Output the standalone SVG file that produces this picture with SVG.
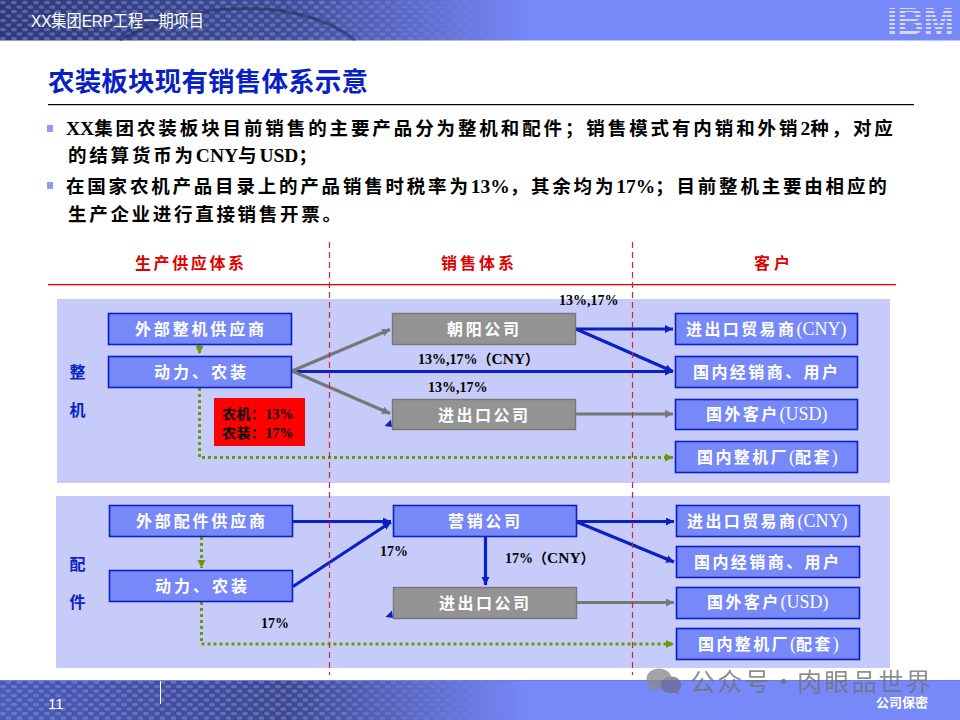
<svg xmlns="http://www.w3.org/2000/svg" width="960" height="720" viewBox="0 0 960 720">
<style>
text{font-family:"Liberation Serif","Noto Sans CJK SC",serif;font-weight:700}
.hd{font-family:"Liberation Sans","Noto Sans CJK SC",sans-serif;font-weight:400;fill:#fff}
.bl{font-size:18.5px;fill:#000}
.la{letter-spacing:0}
.lb2{letter-spacing:0;font-size:19.5px}
.col{font-size:16px;fill:#e00000}
.side{font-size:16px;fill:#0a1fc4;text-anchor:middle}
.bt{font-size:16px;fill:#fff}
.bs{letter-spacing:2.4px}
.blat{font-size:18px;font-weight:400;letter-spacing:0}
.lb{font-size:14px;fill:#000}
.lcny{font-size:15.5px}
.panel{fill:#c6cbfa}
.bx{fill:#7788f9;stroke:#0a1fc4;stroke-width:1.6}
.gy{fill:#939393;stroke:#777;stroke-width:1.4}
.c{fill:none}
.blue{stroke:#0a1fc4;stroke-width:3.2}
.gray{stroke:#777;stroke-width:3.2}
.dot{stroke:#6b9a00;stroke-width:3;stroke-dasharray:3 3}
.div{stroke:#d8203c;stroke-width:1.200;stroke-dasharray:6 4}
</style>
<defs>
<linearGradient id="hg" x1="0" x2="1" y1="0" y2="0"><stop offset="0" stop-color="#2f3a78"/><stop offset=".3" stop-color="#3f4c98"/><stop offset=".55" stop-color="#7788f9"/><stop offset="1" stop-color="#7788f9"/></linearGradient>
<linearGradient id="fg" x1="0" x2="1" y1="0" y2="0"><stop offset="0" stop-color="#4a5ab8"/><stop offset=".3" stop-color="#3d4890"/><stop offset=".55" stop-color="#7788f9"/><stop offset="1" stop-color="#7788f9"/></linearGradient>
<linearGradient id="fade" x1="0" x2="1" y1="0" y2="0"><stop offset="0" stop-color="#fff" stop-opacity=".8"/><stop offset=".33" stop-color="#fff" stop-opacity=".8"/><stop offset=".55" stop-color="#fff" stop-opacity="0"/></linearGradient>
<pattern id="dots" width="11" height="9" patternUnits="userSpaceOnUse"><ellipse cx="3" cy="2.500" rx="3" ry="1.800" fill="#8f9ce0" fill-opacity=".55"/><ellipse cx="8.500" cy="7" rx="3" ry="1.800" fill="#8f9ce0" fill-opacity=".55"/></pattern>
<mask id="fm"><rect width="960" height="720" fill="url(#fade)"/></mask>
<marker id="ab" markerWidth="10" markerHeight="10" refX="8" refY="4" orient="auto" markerUnits="userSpaceOnUse"><path d="M0 0L8 4L0 8Z" fill="#0a1fc4"/></marker>
<marker id="ag" markerWidth="10" markerHeight="10" refX="8" refY="4" orient="auto" markerUnits="userSpaceOnUse"><path d="M0 0L8 4L0 8Z" fill="#777"/></marker>
<marker id="ad" markerWidth="10" markerHeight="10" refX="8" refY="4" orient="auto" markerUnits="userSpaceOnUse"><path d="M0 0L8 4L0 8Z" fill="#6b9a00"/></marker>
</defs>

<g id="header">
<rect width="960" height="40.500" fill="url(#hg)"/>
<rect width="960" height="40.500" fill="url(#dots)" mask="url(#fm)"/>
<path d="M120 40C190 0 300 -4 355 40" fill="none" stroke="#26305f" stroke-width="3" opacity=".6"/>
<text class="hd" x="31" y="27" font-size="17" textLength="173" lengthAdjust="spacingAndGlyphs">XX集团ERP工程一期项目</text>
<text x="887" y="33.500" font-size="37" textLength="67" lengthAdjust="spacingAndGlyphs" style="font-family:'Liberation Sans',sans-serif;font-weight:700;fill:#d4d9fb">IBM</text>
<path d="M885 10H956M885 14H956M885 18H956M885 22H956M885 26H956M885 30H956" stroke="#7788f9" stroke-width="1.800"/>
</g>

<g id="title">
<text x="48" y="91" font-size="26.500" fill="#0a1fc4" textLength="320">农装板块现有销售体系示意</text>
<rect x="48" y="104" width="866" height="1.200" fill="#000"/>
</g>

<g id="bullets">
<rect x="47" y="125" width="6" height="7" fill="#8f9cf5"/>
<rect x="47" y="182" width="6" height="7" fill="#8f9cf5"/>
<text class="bl" x="66" y="135" letter-spacing="2.900"><tspan class="lb2">XX</tspan>集团农装板块目前销售的主要产品分为整机和配件；销售模式有内销和外销<tspan class="lb2">2</tspan>种，对应</text>
<text class="bl" x="68" y="162" letter-spacing="2.800">的结算货币为<tspan class="lb2">CNY</tspan>与<tspan class="lb2">USD</tspan>；</text>
<text class="bl" x="66" y="193" letter-spacing="2.800">在国家农机产品目录上的产品销售时税率为<tspan class="lb2">13%</tspan>，其余均为<tspan class="lb2">17%</tspan>；目前整机主要由相应的</text>
<text class="bl" x="68" y="221" letter-spacing="2.700">生产企业进行直接销售开票。</text>
</g>

<g id="columns">
<text class="col" x="135" y="269" textLength="109">生产供应体系</text>
<text class="col" x="441" y="269" textLength="73">销售体系</text>
<text class="col" x="754" y="269" textLength="36">客户</text>
<rect x="48" y="284" width="848" height="1.300" fill="#e00000"/>
</g>

<g id="panels">
<rect class="panel" x="57" y="299" width="833" height="184"/>
<rect class="panel" x="56" y="496" width="834" height="172"/>
</g>

<g id="connectors" fill="none">
<path class="c blue" d="M292 371.500H673" marker-end="url(#ab)"/>
<path class="c gray" d="M292 371L390 329.500" marker-end="url(#ag)"/>
<path class="c gray" d="M292 371L390 413.500" marker-end="url(#ag)"/>
<path class="c blue" d="M576 329H673" marker-end="url(#ab)"/>
<path class="c blue" d="M576 329L673 371.500" marker-end="url(#ab)"/>
<path class="c gray" d="M576 414H673" marker-end="url(#ag)"/>
<path class="c dot" d="M199.500 344V354" marker-end="url(#ad)"/>
<path class="c dot" d="M199.500 388V457.500H673" marker-end="url(#ad)"/>
<path d="M384.500 426L391 419.500L392 427Z" fill="#0a1fc4"/>
<path class="c blue" d="M293 521.500H391" marker-end="url(#ab)"/>
<path class="c blue" d="M293 586.500L391 522" marker-end="url(#ab)"/>
<path class="c blue" d="M577 521.500H674" marker-end="url(#ab)"/>
<path class="c blue" d="M577 522L674 562" marker-end="url(#ab)"/>
<path class="c blue" d="M485.500 536V585" marker-end="url(#ab)"/>
<path class="c gray" d="M577 602.500H674" marker-end="url(#ag)"/>
<path class="c dot" d="M201.500 537V568" marker-end="url(#ad)"/>
<path class="c dot" d="M201.500 602V644H674" marker-end="url(#ad)"/>
<path d="M385.500 617L392 610.500L393 618Z" fill="#0a1fc4"/>
<path class="c div" d="M329.500 242V675"/>
<path class="c div" d="M632.500 242V675"/>
</g>

<g id="side-labels">
<text class="side" x="77.500" y="378">整</text>
<text class="side" x="77.500" y="416">机</text>
<text class="side" x="77.500" y="570">配</text>
<text class="side" x="77.500" y="608">件</text>
</g>

<g id="n1"><rect class="bx" x="108.500" y="313.500" width="183" height="31"/><text class="bt" x="135" y="335" textLength="129">外部整机供应商</text></g>
<g id="n2"><rect class="bx" x="108.500" y="356.500" width="183" height="31"/><text class="bt" x="154" y="378" textLength="92">动力、农装</text></g>
<g id="n3"><rect class="gy" x="392.500" y="313.500" width="183" height="31"/><text class="bt" x="447" y="335" textLength="72">朝阳公司</text></g>
<g id="n4"><rect class="gy" x="392.500" y="399.500" width="183" height="30"/><text class="bt" x="438" y="421" textLength="90">进出口公司</text></g>
<g id="n5"><rect class="bx" x="675.500" y="313.500" width="182" height="31"/><text class="bt bs" x="686" y="335">进出口贸易商<tspan class="blat">(CNY)</tspan></text></g>
<g id="n6"><rect class="bx" x="675.500" y="356.500" width="182" height="31"/><text class="bt" x="693" y="378" textLength="145">国内经销商、用户</text></g>
<g id="n7"><rect class="bx" x="675.500" y="399.500" width="182" height="30"/><text class="bt bs" x="706" y="420">国外客户<tspan class="blat">(USD)</tspan></text></g>
<g id="n8"><rect class="bx" x="675.500" y="441.500" width="182" height="31"/><text class="bt bs" x="697" y="463">国内整机厂<tspan class="blat">(</tspan>配套<tspan class="blat">)</tspan></text></g>
<g id="n9"><rect x="214" y="398" width="91" height="48" fill="#ff0000"/><text class="lb" x="222" y="419" letter-spacing=".5">农机：<tspan class="la">13%</tspan></text><text class="lb" x="222" y="438" letter-spacing=".5">农装：<tspan class="la">17%</tspan></text></g>

<g id="n10"><rect class="bx" x="109.500" y="505.500" width="183" height="31"/><text class="bt" x="136" y="527" textLength="129">外部配件供应商</text></g>
<g id="n11"><rect class="bx" x="109.500" y="570.500" width="183" height="31"/><text class="bt" x="155" y="592" textLength="92">动力、农装</text></g>
<g id="n12"><rect class="bx" x="393.500" y="505.500" width="183" height="31"/><text class="bt" x="448" y="527" textLength="72">营销公司</text></g>
<g id="n13"><rect class="gy" x="393.500" y="587.500" width="183" height="31"/><text class="bt" x="439" y="609" textLength="90">进出口公司</text></g>
<g id="n14"><rect class="bx" x="676.500" y="505.500" width="183" height="31"/><text class="bt bs" x="687" y="527">进出口贸易商<tspan class="blat">(CNY)</tspan></text></g>
<g id="n15"><rect class="bx" x="676.500" y="546.500" width="183" height="31"/><text class="bt" x="694" y="568" textLength="145">国内经销商、用户</text></g>
<g id="n16"><rect class="bx" x="676.500" y="587.500" width="183" height="31"/><text class="bt bs" x="707" y="608">国外客户<tspan class="blat">(USD)</tspan></text></g>
<g id="n17"><rect class="bx" x="676.500" y="628.500" width="183" height="31"/><text class="bt bs" x="698" y="650">国内整机厂<tspan class="blat">(</tspan>配套<tspan class="blat">)</tspan></text></g>

<g id="edge-labels">
<text class="lb" x="559" y="305">13%,17%</text>
<text class="lb" x="418" y="364">13%,17%<tspan>（</tspan><tspan class="lcny">CNY</tspan><tspan>）</tspan></text>
<text class="lb" x="428" y="392">13%,17%</text>
<text class="lb" x="380" y="556">17%</text>
<text class="lb" x="505" y="563">17%<tspan>（</tspan><tspan class="lcny">CNY</tspan><tspan>）</tspan></text>
<text class="lb" x="261" y="628">17%</text>
</g>

<g id="footer">
<rect y="680" width="960" height="40" fill="url(#fg)"/>
<rect y="680" width="960" height="40" fill="url(#dots)" mask="url(#fm)"/>
<rect y="680" width="960" height="1" fill="#6a7cf0"/>
<rect x="160" y="681" width="1" height="23" fill="#fff"/>
<text class="hd" x="48" y="709" font-size="15">11</text>
<text class="hd" x="876" y="707" font-size="13" textLength="52" style="font-weight:700">公司保密</text>
</g>

<g id="watermark" opacity=".78">
<ellipse cx="659" cy="679" rx="12.500" ry="10.500" fill="#8a8a8a"/>
<path d="M652 686L650 692L658 688Z" fill="#8a8a8a"/>
<ellipse cx="671" cy="685" rx="10.500" ry="8.500" fill="#6a6f90"/>
<path d="M674 691L679 695L677 689Z" fill="#6a6f90"/>
<text y="691" font-size="25" letter-spacing="2.200" style="font-family:'Noto Sans CJK SC',sans-serif;font-weight:400;fill:#707070"><tspan x="690">公众号</tspan><tspan x="771">·</tspan><tspan x="797">肉眼品世界</tspan></text>
</g>
</svg>
